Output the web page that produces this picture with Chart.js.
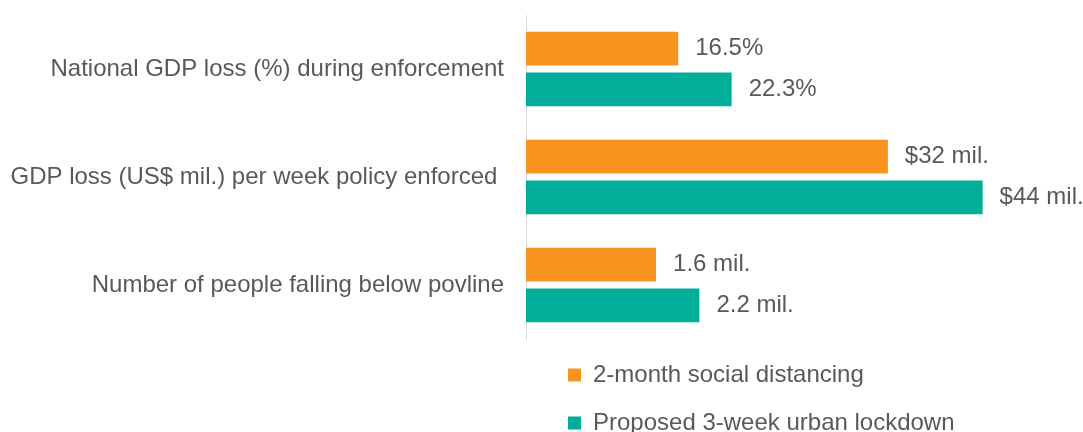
<!DOCTYPE html>
<html>
<head>
<meta charset="utf-8">
<script src="https://cdn.jsdelivr.net/npm/chart.js@4.4.1/dist/chart.umd.min.js"></script>
<style>
  html, body { margin: 0; padding: 0; background: #fff; }
  #chart { display: block; }
</style>
</head>
<body>
<canvas id="chart" width="1083" height="432"></canvas>
<script>
// categories, top to bottom (second one keeps its trailing space)
const categories = [
    "National GDP loss (%) during enforcement",
    "GDP loss (US$ mil.) per week policy enforced ",
    "Number of people falling below povline"
];
const seriesNames = ["2-month social distancing", "Proposed 3-week urban lockdown"];

// bar lengths, on a 0-50 axis
const socialDistancing = [15.1, 35.9, 12.9];
const urbanLockdown = [20.4, 45.3, 17.2];

// printed value labels
const socialDistancingLabels = ["16.5%", "$32 mil.", "1.6 mil."];
const urbanLockdownLabels = ["22.3%", "$44 mil.", "2.2 mil."];

const textColor = "#595959";
const fontFamily = "Arial, 'Liberation Sans', sans-serif";

// value labels at the end of each bar
const barLabels = {
    id: "barLabels",
    afterDatasetsDraw(chart) {
        const ctx = chart.ctx;
        ctx.save();
        ctx.font = "24px " + fontFamily;
        ctx.fillStyle = textColor;
        ctx.textAlign = "left";
        ctx.textBaseline = "middle";
        chart.data.datasets.forEach((ds, i) => {
            chart.getDatasetMeta(i).data.forEach((bar, j) => {
                ctx.fillText(ds.valueLabels[j], bar.x + 17, bar.y);
            });
        });
        ctx.restore();
    }
};

// the legend sits a bit right of the axis line
const legendShift = {
    id: "legendShift",
    afterLayout(chart) {
        chart.legend.left += 18;
    }
};

new Chart(document.getElementById("chart"), {
    type: "bar",
    data: {
        labels: categories,
        datasets: [
            {
                label: seriesNames[0],
                data: socialDistancing,
                valueLabels: socialDistancingLabels,
                backgroundColor: "#F7931E",
                categoryPercentage: 0.754,
                barPercentage: 0.833
            },
            {
                label: seriesNames[1],
                data: urbanLockdown,
                valueLabels: urbanLockdownLabels,
                backgroundColor: "#00AE9A",
                categoryPercentage: 0.754,
                barPercentage: 0.833
            }
        ]
    },
    options: {
        indexAxis: "y",
        responsive: false,
        animation: false,
        layout: {
            padding: { top: 15, right: 53, bottom: -13, left: 0 }
        },
        plugins: {
            legend: {
                position: "bottom",
                fullSize: false,
                align: "start",
                labels: {
                    boxWidth: 13,
                    boxHeight: 13,
                    padding: 24,
                    color: textColor,
                    font: { size: 24, family: fontFamily }
                }
            },
            tooltip: { enabled: false }
        },
        scales: {
            x: {
                display: false,
                min: 0,
                max: 50
            },
            y: {
                grid: { display: false, drawTicks: false },
                border: { display: true, color: "#d9d9d9", width: 1 },
                ticks: {
                    color: textColor,
                    padding: 22,
                    font: { size: 24, family: fontFamily }
                },
                afterFit(scale) {
                    scale.width = 526;
                    scale.paddingTop = 0;
                    scale.paddingBottom = 0;
                }
            }
        }
    },
    plugins: [barLabels, legendShift]
});
</script>
</body>
</html>
